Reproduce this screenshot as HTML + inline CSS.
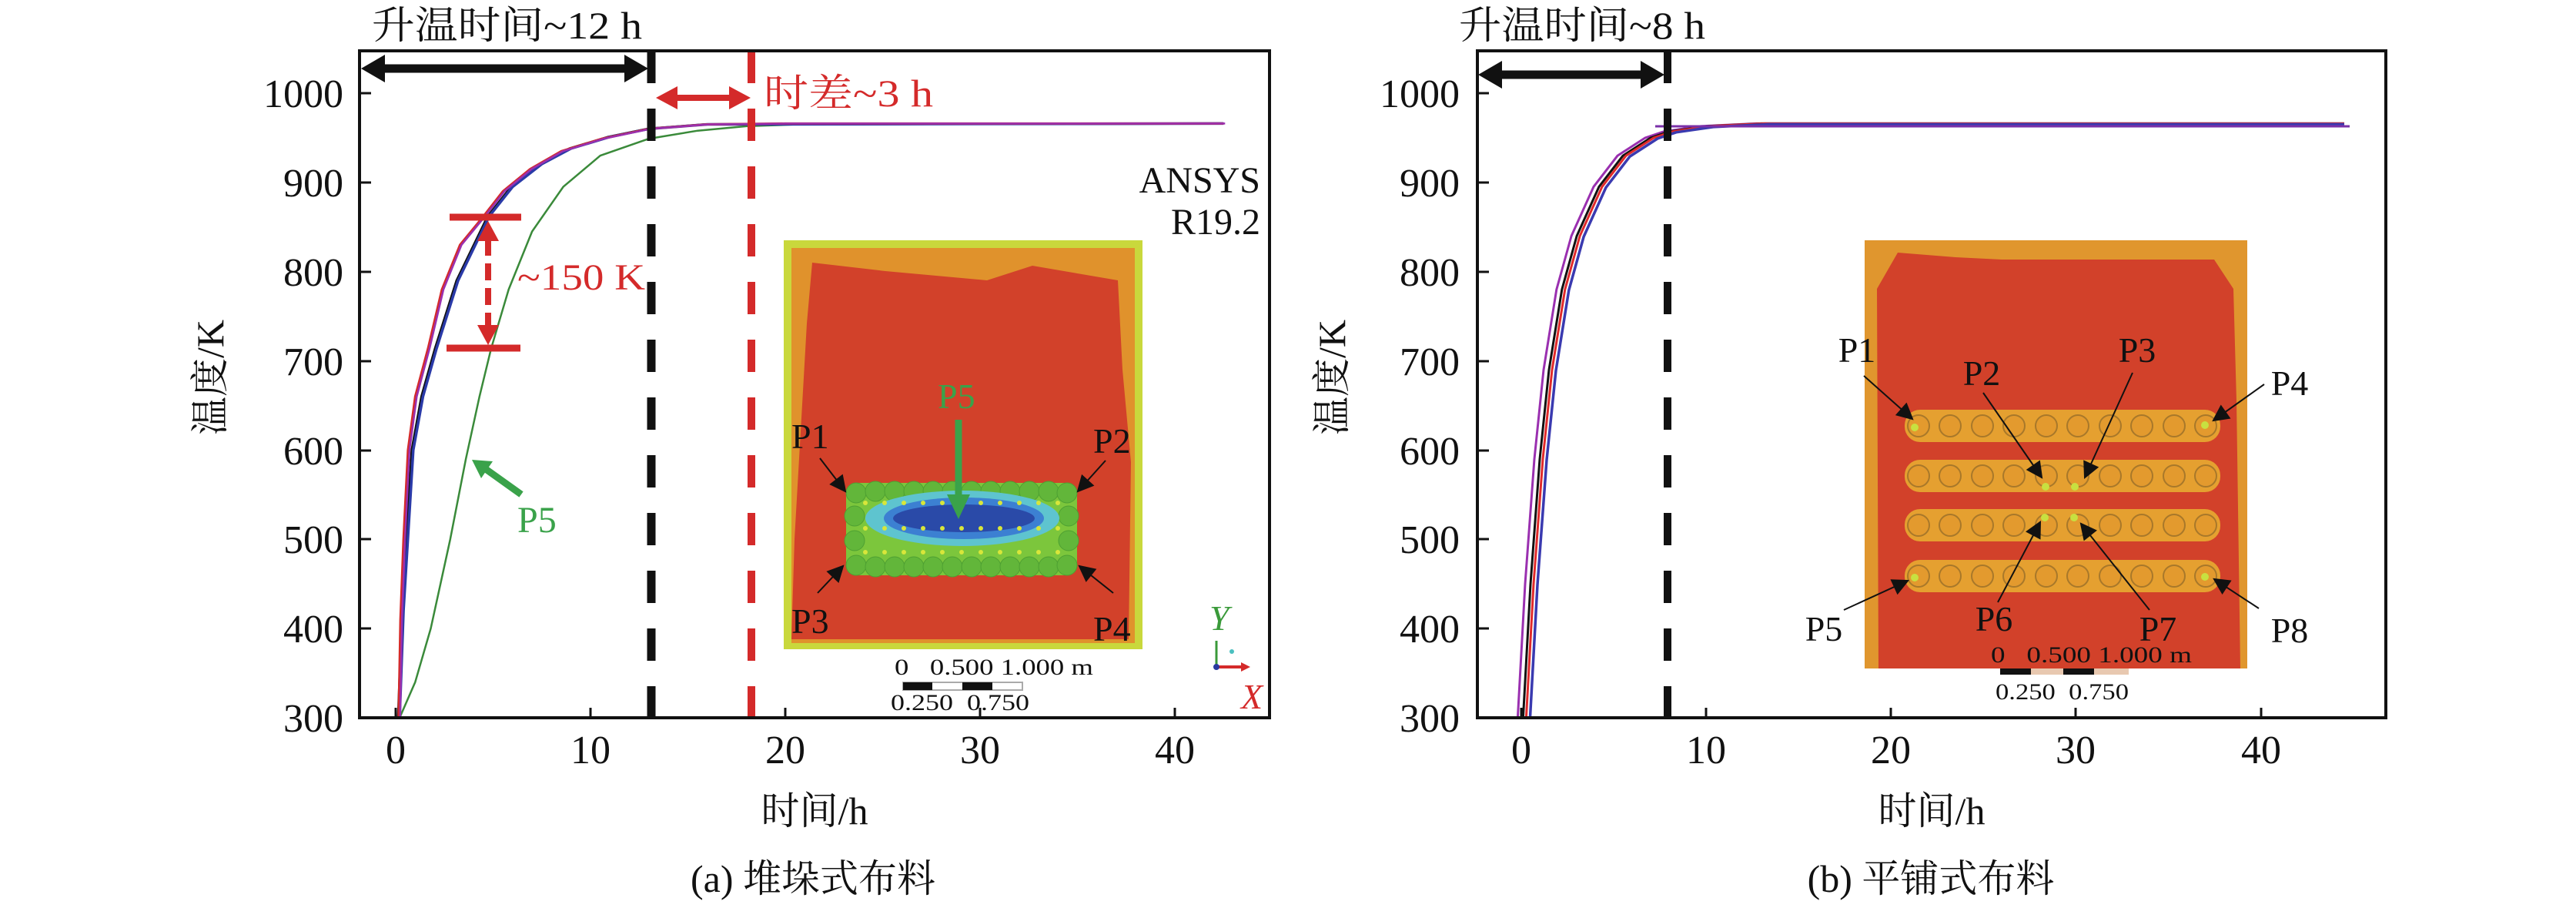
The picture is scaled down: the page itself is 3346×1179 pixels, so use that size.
<!DOCTYPE html>
<html><head><meta charset="utf-8"><style>
html,body{margin:0;padding:0;background:#fff;}
svg{display:block;}
text{font-family:"Liberation Serif","Noto Serif CJK SC",serif;}
</style></head><body>
<svg width="3346" height="1179" viewBox="0 0 3346 1179" xmlns="http://www.w3.org/2000/svg">
<defs>
<marker id="ab" viewBox="0 0 10 10" refX="9" refY="5" markerWidth="6" markerHeight="6" orient="auto-start-reverse" markerUnits="userSpaceOnUse"><path d="M0,0 L10,5 L0,10z" fill="#000"/></marker>
<marker id="sa" viewBox="0 0 10 10" refX="9" refY="5" markerWidth="26" markerHeight="22" orient="auto" markerUnits="userSpaceOnUse"><path d="M0,0 L10,5 L0,10z" fill="#111"/></marker>
</defs>

<!-- ============ PANEL A ============ -->
<!-- inset a -->
<g>
<rect x="1018" y="312" width="466" height="531" fill="#c9d83c"/>
<rect x="1028" y="322" width="446" height="513" fill="#e0922c"/>
<path d="M1055,341 L1150,352 L1282,364 L1341,345 L1452,364 L1458,480 L1469,600 L1466,830 L1028,830 L1032,700 L1040,560 L1048,420 Z" fill="#d2412a"/>
<!-- block -->
<rect x="1099" y="627" width="300" height="120" rx="14" fill="#7cc63c"/>
<g fill="#62b63a" stroke="#4ea032" stroke-width="1">
<circle cx="1112" cy="640" r="13"/><circle cx="1137" cy="638" r="13"/><circle cx="1162" cy="638" r="13"/><circle cx="1187" cy="638" r="13"/><circle cx="1212" cy="638" r="13"/><circle cx="1237" cy="638" r="13"/><circle cx="1262" cy="638" r="13"/><circle cx="1287" cy="638" r="13"/><circle cx="1312" cy="638" r="13"/><circle cx="1337" cy="638" r="13"/><circle cx="1362" cy="638" r="13"/><circle cx="1386" cy="640" r="13"/>
<circle cx="1112" cy="734" r="13"/><circle cx="1137" cy="736" r="13"/><circle cx="1162" cy="736" r="13"/><circle cx="1187" cy="736" r="13"/><circle cx="1212" cy="736" r="13"/><circle cx="1237" cy="736" r="13"/><circle cx="1262" cy="736" r="13"/><circle cx="1287" cy="736" r="13"/><circle cx="1312" cy="736" r="13"/><circle cx="1337" cy="736" r="13"/><circle cx="1362" cy="736" r="13"/><circle cx="1386" cy="734" r="13"/>
<circle cx="1110" cy="670" r="13"/><circle cx="1110" cy="702" r="13"/><circle cx="1388" cy="670" r="13"/><circle cx="1388" cy="702" r="13"/>
</g>
<ellipse cx="1250" cy="673" rx="126" ry="36" fill="#5ec4cf"/>
<ellipse cx="1252" cy="673" rx="104" ry="27" fill="#3c80d2"/>
<ellipse cx="1252" cy="673" rx="92" ry="18" fill="#2a4aa8"/>
<g fill="#d8e63a">
<circle cx="1124" cy="653" r="3"/><circle cx="1149" cy="653" r="3"/><circle cx="1174" cy="653" r="3"/><circle cx="1199" cy="653" r="3"/><circle cx="1224" cy="653" r="3"/><circle cx="1249" cy="653" r="3"/><circle cx="1274" cy="653" r="3"/><circle cx="1299" cy="653" r="3"/><circle cx="1324" cy="653" r="3"/><circle cx="1349" cy="653" r="3"/><circle cx="1374" cy="653" r="3"/>
<circle cx="1124" cy="686" r="3"/><circle cx="1149" cy="686" r="3"/><circle cx="1174" cy="686" r="3"/><circle cx="1199" cy="686" r="3"/><circle cx="1224" cy="686" r="3"/><circle cx="1249" cy="686" r="3"/><circle cx="1274" cy="686" r="3"/><circle cx="1299" cy="686" r="3"/><circle cx="1324" cy="686" r="3"/><circle cx="1349" cy="686" r="3"/><circle cx="1374" cy="686" r="3"/>
<circle cx="1124" cy="717" r="3"/><circle cx="1149" cy="717" r="3"/><circle cx="1174" cy="717" r="3"/><circle cx="1199" cy="717" r="3"/><circle cx="1224" cy="717" r="3"/><circle cx="1249" cy="717" r="3"/><circle cx="1274" cy="717" r="3"/><circle cx="1299" cy="717" r="3"/><circle cx="1324" cy="717" r="3"/><circle cx="1349" cy="717" r="3"/><circle cx="1374" cy="717" r="3"/>
</g>
<!-- labels inset a -->
<g font-size="46" fill="#111">
<text x="1028" y="582">P1</text><text x="1420" y="588">P2</text>
<text x="1028" y="822">P3</text><text x="1420" y="832">P4</text>
</g>
<text x="1218" y="530" font-size="46" fill="#3aa24a">P5</text>
<line x1="1245" y1="545" x2="1245" y2="645" stroke="#3aa24a" stroke-width="9"/>
<path d="M1230,642 L1260,642 L1245,674 Z" fill="#3aa24a"/>
<g stroke="#111" stroke-width="2" marker-end="url(#sa)">
<line x1="1065" y1="595" x2="1098" y2="638"/>
<line x1="1436" y1="598" x2="1400" y2="638"/>
<line x1="1062" y1="770" x2="1095" y2="735"/>
<line x1="1446" y1="770" x2="1402" y2="735"/>
</g>
<text x="1162" y="876" font-size="30" fill="#111" textLength="258" lengthAdjust="spacingAndGlyphs">0 &#160;&#160;0.500 1.000 m</text>
<rect x="1173" y="886" width="155" height="10" fill="#fff" stroke="#aaa" stroke-width="2"/>
<rect x="1173" y="886" width="38" height="10" fill="#111"/><rect x="1250" y="886" width="39" height="10" fill="#111"/>
<text x="1157" y="922" font-size="30" fill="#111" textLength="180" lengthAdjust="spacingAndGlyphs">0.250 &#160;0.750</text>
</g>
<!-- triad -->
<line x1="1580" y1="866" x2="1580" y2="832" stroke="#3a9a3a" stroke-width="3"/>
<line x1="1580" y1="866" x2="1617" y2="866" stroke="#d42a2a" stroke-width="4"/>
<path d="M1612,860 L1624,866 L1612,872Z" fill="#d42a2a"/>
<circle cx="1580" cy="866" r="4" fill="#2a3aa0"/>
<circle cx="1600" cy="846" r="3" fill="#4ac0c0"/>
<text x="1571" y="818" font-size="46" font-style="italic" fill="#3a9a3a">Y</text>
<text x="1612" y="920" font-size="46" font-style="italic" fill="#d42a2a">X</text>
<text x="1637" y="250" font-size="48" fill="#111" text-anchor="end">ANSYS</text>
<text x="1637" y="304" font-size="48" fill="#111" text-anchor="end">R19.2</text>

<!-- curves a -->
<g fill="none" stroke-linejoin="round">
<polyline stroke="#3a8a3a" stroke-width="2.5" points="519.1,932 539.3,885.7 559.5,816.1 584.8,700.3 605.1,596 622.8,514.9 638,452.3 660.7,375.9 691.1,300.6 731.6,242.6 779.7,202.1 842.9,180.1 906.2,169.7 969.4,163.9 1070.6,160.4 1589.3,160.4"/>
<polyline stroke="#111" stroke-width="3" transform="translate(-2,0)" points="519.1,932 524.1,793 536.8,584.4 549.4,514.9 567.1,452.3 595,364.3 635.4,280.9 665.8,242.6 703.8,213 741.7,192.8 792.3,177.7 842.9,167.3 918.8,161.5 1589.3,160.4"/>
<polyline stroke="#2a3aa8" stroke-width="3.5" points="519.1,932 524.1,793 536.8,584.4 549.4,514.9 567.1,452.3 595,364.3 635.4,280.9 665.8,242.6 703.8,213 741.7,192.8 792.3,177.7 842.9,167.3 918.8,161.5 1589.3,160.4"/>
<polyline stroke="#d42a2a" stroke-width="3" points="517.8,932 520.1,804.6 524.1,700.3 529.9,584.4 539.3,514.9 556,452.3 574,375.9 597.5,317.9 627.9,280.9 653.2,248.4 688.6,219.5 729.1,196.3 782.2,180.1 842.9,167.3 918.8,161.5 1020,160.4 1589.3,160.4"/>
<polyline stroke="#9a30b0" stroke-width="2.5" transform="translate(2,0)" points="517.8,932 520.1,804.6 524.1,700.3 529.9,584.4 539.3,514.9 556,452.3 574,375.9 597.5,317.9 627.9,280.9 653.2,248.4 688.6,219.5 729.1,196.3 782.2,180.1 842.9,167.3 918.8,161.5 1020,160.4 1589.3,160.4"/>
</g>

<!-- dashed lines a -->
<line x1="846" y1="66" x2="846" y2="932" stroke="#111" stroke-width="11" stroke-dasharray="42 33"/>
<line x1="976" y1="66" x2="976" y2="932" stroke="#d42a2a" stroke-width="10" stroke-dasharray="42 33"/>
<!-- black arrow a -->
<line x1="495" y1="89" x2="815" y2="89" stroke="#111" stroke-width="11"/>
<path d="M469,89 L500,71 L500,107Z M842,89 L811,71 L811,107Z" fill="#111"/>
<!-- red arrow a -->
<line x1="875" y1="127" x2="952" y2="127" stroke="#d42a2a" stroke-width="8"/>
<path d="M852,127 L880,112 L880,142Z M975,127 L947,112 L947,142Z" fill="#d42a2a"/>
<text x="992" y="138" font-size="50" fill="#d42a2a" textLength="220" lengthAdjust="spacingAndGlyphs">时差~3 h</text>
<!-- 150K -->
<line x1="584" y1="282" x2="677" y2="282" stroke="#d42a2a" stroke-width="9"/>
<line x1="580" y1="452" x2="676" y2="452" stroke="#d42a2a" stroke-width="9"/>
<line x1="634" y1="310" x2="634" y2="425" stroke="#d42a2a" stroke-width="8" stroke-dasharray="22 10"/>
<path d="M634,287 L620,313 L648,313Z M634,448 L620,422 L648,422Z" fill="#d42a2a"/>
<text x="672" y="376" font-size="48" fill="#d42a2a" textLength="166" lengthAdjust="spacingAndGlyphs">~150 K</text>
<!-- P5 arrow -->
<line x1="677" y1="642" x2="628" y2="607" stroke="#3aa24a" stroke-width="9"/>
<path d="M613,597 L640,599 L625,621Z" fill="#3aa24a"/>
<text x="672" y="691" font-size="48" fill="#3aa24a">P5</text>

<!-- axes a -->
<rect x="467" y="66" width="1182" height="866" fill="none" stroke="#111" stroke-width="4"/>
<g stroke="#111" stroke-width="3">
<line x1="467" y1="121" x2="482" y2="121"/><line x1="467" y1="237" x2="482" y2="237"/><line x1="467" y1="353" x2="482" y2="353"/><line x1="467" y1="469" x2="482" y2="469"/><line x1="467" y1="585" x2="482" y2="585"/><line x1="467" y1="700" x2="482" y2="700"/><line x1="467" y1="816" x2="482" y2="816"/>
<line x1="514" y1="932" x2="514" y2="919"/><line x1="767" y1="932" x2="767" y2="919"/><line x1="1020" y1="932" x2="1020" y2="919"/><line x1="1273" y1="932" x2="1273" y2="919"/><line x1="1526" y1="932" x2="1526" y2="919"/>
</g>
<g font-size="52" fill="#111" text-anchor="end">
<text x="446" y="139">1000</text><text x="446" y="255">900</text><text x="446" y="371">800</text><text x="446" y="487">700</text><text x="446" y="603">600</text><text x="446" y="718">500</text><text x="446" y="834">400</text><text x="446" y="950">300</text>
</g>
<g font-size="52" fill="#111" text-anchor="middle">
<text x="514" y="991">0</text><text x="767" y="991">10</text><text x="1020" y="991">20</text><text x="1273" y="991">30</text><text x="1526" y="991">40</text>
</g>
<text x="483" y="50" font-size="50" fill="#111" textLength="351" lengthAdjust="spacingAndGlyphs">升温时间~12 h</text>
<text x="1058" y="1070" font-size="50" fill="#111" text-anchor="middle">时间/h</text>
<text x="1056" y="1158" font-size="50" fill="#111" text-anchor="middle">(a) 堆垛式布料</text>
<text transform="translate(290,490) rotate(-90)" font-size="50" fill="#111" text-anchor="middle">温度/K</text>

<!-- ============ PANEL B ============ -->
<rect x="2422" y="312" width="497" height="556" fill="#e0962e"/>
<path d="M2465,328 L2540,334 L2600,337 L2876,337 L2901,375 L2905,520 L2910,868 L2440,868 L2438,375 Z" fill="#d2412a"/>
<g>
<g fill="#e5a030">
<rect x="2474" y="532" width="410" height="42" rx="20"/><rect x="2474" y="597" width="410" height="42" rx="20"/><rect x="2474" y="661" width="410" height="42" rx="20"/><rect x="2474" y="727" width="410" height="42" rx="20"/>
</g>
<g fill="#e39a2e" stroke="#a8782a" stroke-width="2">
<circle cx="2492" cy="553" r="14"/><circle cx="2533" cy="553" r="14"/><circle cx="2575" cy="553" r="14"/><circle cx="2616" cy="553" r="14"/><circle cx="2658" cy="553" r="14"/><circle cx="2699" cy="553" r="14"/><circle cx="2741" cy="553" r="14"/><circle cx="2782" cy="553" r="14"/><circle cx="2824" cy="553" r="14"/><circle cx="2865" cy="553" r="14"/>
<circle cx="2492" cy="618" r="14"/><circle cx="2533" cy="618" r="14"/><circle cx="2575" cy="618" r="14"/><circle cx="2616" cy="618" r="14"/><circle cx="2658" cy="618" r="14"/><circle cx="2699" cy="618" r="14"/><circle cx="2741" cy="618" r="14"/><circle cx="2782" cy="618" r="14"/><circle cx="2824" cy="618" r="14"/><circle cx="2865" cy="618" r="14"/>
<circle cx="2492" cy="682" r="14"/><circle cx="2533" cy="682" r="14"/><circle cx="2575" cy="682" r="14"/><circle cx="2616" cy="682" r="14"/><circle cx="2658" cy="682" r="14"/><circle cx="2699" cy="682" r="14"/><circle cx="2741" cy="682" r="14"/><circle cx="2782" cy="682" r="14"/><circle cx="2824" cy="682" r="14"/><circle cx="2865" cy="682" r="14"/>
<circle cx="2492" cy="748" r="14"/><circle cx="2533" cy="748" r="14"/><circle cx="2575" cy="748" r="14"/><circle cx="2616" cy="748" r="14"/><circle cx="2658" cy="748" r="14"/><circle cx="2699" cy="748" r="14"/><circle cx="2741" cy="748" r="14"/><circle cx="2782" cy="748" r="14"/><circle cx="2824" cy="748" r="14"/><circle cx="2865" cy="748" r="14"/>
</g>
<g fill="#c8e040">
<circle cx="2487" cy="555" r="5"/><circle cx="2864" cy="552" r="5"/><circle cx="2657" cy="632" r="5"/><circle cx="2695" cy="632" r="5"/>
<circle cx="2656" cy="672" r="5"/><circle cx="2694" cy="672" r="5"/><circle cx="2487" cy="750" r="5"/><circle cx="2864" cy="749" r="5"/>
</g>
</g>
<g stroke="#111" stroke-width="2" marker-end="url(#sa)">
<line x1="2421" y1="488" x2="2484" y2="544"/>
<line x1="2576" y1="510" x2="2652" y2="620"/>
<line x1="2770" y1="484" x2="2708" y2="620"/>
<line x1="2941" y1="499" x2="2875" y2="546"/>
<line x1="2395" y1="792" x2="2478" y2="754"/>
<line x1="2595" y1="782" x2="2650" y2="678"/>
<line x1="2792" y1="792" x2="2703" y2="680"/>
<line x1="2934" y1="790" x2="2876" y2="752"/>
</g>
<g font-size="46" fill="#111" text-anchor="middle">
<text x="2412" y="470">P1</text><text x="2574" y="500">P2</text><text x="2776" y="470">P3</text><text x="2974" y="513">P4</text>
<text x="2369" y="832">P5</text><text x="2590" y="819">P6</text><text x="2803" y="832">P7</text><text x="2974" y="834">P8</text>
</g>
<text x="2586" y="860" font-size="30" fill="#111" textLength="261" lengthAdjust="spacingAndGlyphs">0 &#160;&#160;0.500 1.000 m</text>
<rect x="2598" y="868" width="167" height="8" fill="#e8c8b0"/>
<rect x="2598" y="868" width="40" height="8" fill="#111"/><rect x="2680" y="868" width="40" height="8" fill="#111"/>
<text x="2592" y="908" font-size="30" fill="#111" textLength="173" lengthAdjust="spacingAndGlyphs">0.250 &#160;0.750</text>

<!-- curves b -->
<g fill="none" stroke-linejoin="round">
<polyline stroke="#9a30b0" stroke-width="3" transform="translate(-7,0)" points="1978.4,932 1988,758.2 2000,596 2012,480.1 2028.8,375.9 2048.1,306.4 2076.9,242.6 2108.1,202.1 2144.1,178.9 2168.2,170.8 2216.2,163.9 2288.3,160.4 3051.9,160.4"/>
<polyline stroke="#111" stroke-width="3" points="1978.4,932 1988,758.2 2000,596 2012,480.1 2028.8,375.9 2048.1,306.4 2076.9,242.6 2108.1,202.1 2144.1,178.9 2168.2,170.8 2216.2,163.9 2288.3,160.4 3044.9,160.4"/>
<polyline stroke="#e02a2a" stroke-width="3" transform="translate(4,0)" points="1978.4,932 1988,758.2 2000,596 2012,480.1 2028.8,375.9 2048.1,306.4 2076.9,242.6 2108.1,202.1 2144.1,178.9 2168.2,170.8 2216.2,163.9 2288.3,160.4 3040.9,160.4"/>
<polyline stroke="#3a3ab0" stroke-width="3.5" transform="translate(9,1)" points="1978.4,932 1988,758.2 2000,596 2012,480.1 2028.8,375.9 2048.1,306.4 2076.9,242.6 2108.1,202.1 2144.1,178.9 2168.2,170.8 2216.2,163.9 2288.3,160.4 3035.9,160.4"/>
<polyline stroke="#7a30a8" stroke-width="3" points="2150,164 3052,164"/>
</g>
<line x1="2166" y1="66" x2="2166" y2="932" stroke="#111" stroke-width="10" stroke-dasharray="42 33"/>
<line x1="1945" y1="97" x2="2136" y2="97" stroke="#111" stroke-width="11"/>
<path d="M1920,97 L1951,79 L1951,115Z M2162,97 L2131,79 L2131,115Z" fill="#111"/>

<rect x="1919" y="66" width="1180" height="866" fill="none" stroke="#111" stroke-width="4"/>
<g stroke="#111" stroke-width="3">
<line x1="1919" y1="121" x2="1934" y2="121"/><line x1="1919" y1="237" x2="1934" y2="237"/><line x1="1919" y1="353" x2="1934" y2="353"/><line x1="1919" y1="469" x2="1934" y2="469"/><line x1="1919" y1="585" x2="1934" y2="585"/><line x1="1919" y1="700" x2="1934" y2="700"/><line x1="1919" y1="816" x2="1934" y2="816"/>
<line x1="1976" y1="932" x2="1976" y2="919"/><line x1="2216" y1="932" x2="2216" y2="919"/><line x1="2456" y1="932" x2="2456" y2="919"/><line x1="2696" y1="932" x2="2696" y2="919"/><line x1="2937" y1="932" x2="2937" y2="919"/>
</g>
<g font-size="52" fill="#111" text-anchor="end">
<text x="1896" y="139">1000</text><text x="1896" y="255">900</text><text x="1896" y="371">800</text><text x="1896" y="487">700</text><text x="1896" y="603">600</text><text x="1896" y="718">500</text><text x="1896" y="834">400</text><text x="1896" y="950">300</text>
</g>
<g font-size="52" fill="#111" text-anchor="middle">
<text x="1976" y="991">0</text><text x="2216" y="991">10</text><text x="2456" y="991">20</text><text x="2696" y="991">30</text><text x="2937" y="991">40</text>
</g>
<text x="1895" y="50" font-size="50" fill="#111" textLength="320" lengthAdjust="spacingAndGlyphs">升温时间~8 h</text>
<text x="2509" y="1070" font-size="50" fill="#111" text-anchor="middle">时间/h</text>
<text x="2508" y="1158" font-size="50" fill="#111" text-anchor="middle">(b) 平铺式布料</text>
<text transform="translate(1747,490) rotate(-90)" font-size="50" fill="#111" text-anchor="middle">温度/K</text>
</svg>
</body></html>
